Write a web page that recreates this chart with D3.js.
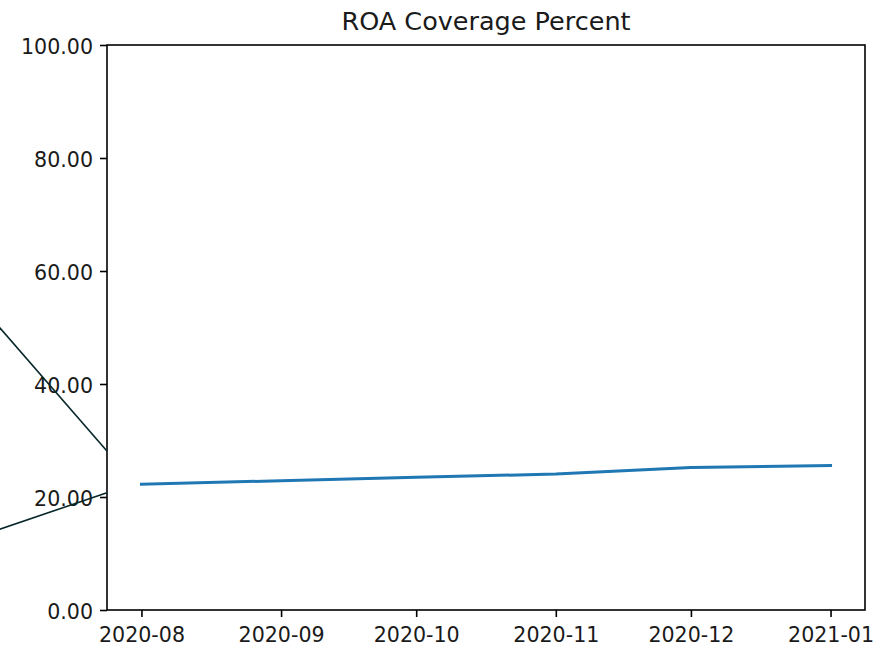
<!DOCTYPE html>
<html>
<head>
<meta charset="utf-8">
<script src="https://cdn.jsdelivr.net/npm/d3@7"></script>
<style>
  html, body { margin: 0; padding: 0; background: #fff; }
  svg { display: block; }
  text { font-family: "DejaVu Sans", sans-serif; fill: #1a1a1a; }
</style>
</head>
<body>
<svg id="chart" width="893" height="648"></svg>
<script>
// Monthly ROA coverage (percent)
const months = ["2020-08-01", "2020-09-01", "2020-10-01", "2020-11-01", "2020-12-01", "2021-01-01"];
const coverage = [22.25, 22.88, 23.49, 24.07, 25.2, 25.55];

// Tick labels
const yTicks = [0, 20, 40, 60, 80, 100];
const xTickLabels = ["2020-08", "2020-09", "2020-10", "2020-11", "2020-12", "2021-01"];

// Two dark guide strokes running in from the left edge to the y-axis
const guideStart = ["2020-06-28T00:00Z", "2020-06-28T00:00Z"];
const guideEnd = ["2020-07-24T08:00Z", "2020-07-24T08:00Z"];
const guideStartValue = [52.3, 13.6];
const guideEndValue = [28.14, 20.76];

const title = "ROA Coverage Percent";

const svg = d3.select("#chart");
const margin = { left: 107, right: 28, top: 45, bottom: 38 };
const W = 893, H = 648;

const parse = d => new Date(d.length === 10 ? d + "T00:00:00Z" : d);
const dates = months.map(parse);

// matplotlib-style 5% padding on the date axis
const span = dates[dates.length - 1] - dates[0];
const x = d3.scaleUtc()
  .domain([new Date(+dates[0] - span * 0.05), new Date(+dates[dates.length - 1] + span * 0.05)])
  .range([margin.left, W - margin.right]);
const y = d3.scaleLinear().domain([0, 100]).range([H - margin.bottom, margin.top]);

const plotL = margin.left, plotR = W - margin.right, plotT = margin.top, plotB = H - margin.bottom;

// Data line
const line = d3.line().x((d, i) => x(dates[i])).y(d => y(d));
svg.append("path")
  .datum(coverage)
  .attr("d", line)
  .attr("fill", "none")
  .attr("stroke", "#1f77b4")
  .attr("stroke-width", 3)
  .attr("stroke-linecap", "square");

// Axes
const xAxis = d3.axisBottom(x)
  .tickValues(dates)
  .tickFormat((d, i) => xTickLabels[i])
  .tickSizeOuter(0).tickSize(7).tickPadding(7);
const gx = svg.append("g").attr("transform", `translate(0,${plotB})`).call(xAxis);

const yAxis = d3.axisLeft(y)
  .tickValues(yTicks)
  .tickFormat(d3.format(".2f"))
  .tickSizeOuter(0).tickSize(7).tickPadding(7);
const gy = svg.append("g").attr("transform", `translate(${plotL},0)`).call(yAxis);

[gx, gy].forEach(g => {
  g.select(".domain").remove();
  g.selectAll(".tick line").attr("stroke", "#000").attr("stroke-width", 1.6);
  g.selectAll(".tick text").attr("font-size", 20.6).attr("fill", "#1a1a1a")
    .attr("font-family", "DejaVu Sans, sans-serif");
});
gx.selectAll(".tick text").attr("dy", null).attr("y", 31.5);
gy.selectAll(".tick text").attr("dy", null).attr("y", 8.5);

// Frame
svg.append("rect")
  .attr("x", plotL).attr("y", plotT)
  .attr("width", plotR - plotL).attr("height", plotB - plotT)
  .attr("fill", "none").attr("stroke", "#000").attr("stroke-width", 1.6);

// Title
svg.append("text")
  .attr("x", (plotL + plotR) / 2).attr("y", 30)
  .attr("text-anchor", "middle")
  .attr("font-size", 25.5)
  .text(title);

// Guide strokes
guideStart.forEach((s, i) => {
  svg.append("line")
    .attr("x1", x(parse(s))).attr("y1", y(guideStartValue[i]))
    .attr("x2", x(parse(guideEnd[i]))).attr("y2", y(guideEndValue[i]))
    .attr("stroke", "#072628").attr("stroke-width", 1.6);
});
</script>
</body>
</html>
